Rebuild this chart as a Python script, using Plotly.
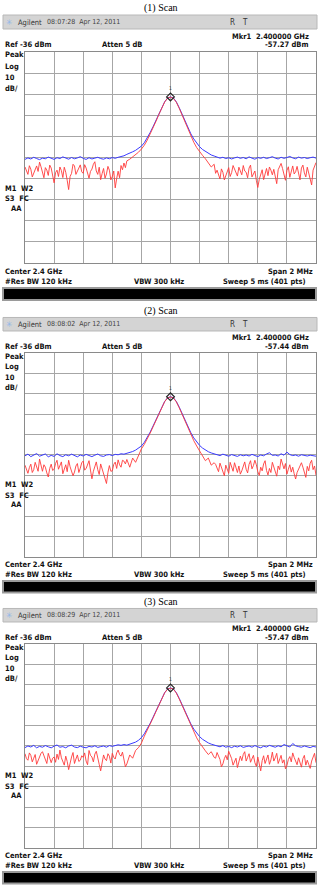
import numpy as np
import plotly.graph_objects as go

# ---------------- data ----------------
CENTER_MHZ = 2400.0
SPAN_MHZ = 2.0
REF_DBM = -36
DB_PER_DIV = 10

titles = ["(1) Scan", "(2) Scan", "(3) Scan"]
times = ["08:07:28  Apr 12, 2011", "08:08:02  Apr 12, 2011", "08:08:29  Apr 12, 2011"]
marker_dbm = [-57.27, -57.44, -57.47]
marker_text = ["-57.27 dBm", "-57.44 dBm", "-57.47 dBm"]

# ---- panel 1 ----
blue1 = ([-86.9, -86.2, -86.7, -85.9, -86.5, -87.0, -86.3, -86.6, -85.8, -86.4,
          -86.9, -86.1, -86.5, -85.7, -86.3, -86.8, -86.0, -86.6, -86.2, -85.6,
          -86.4, -86.9, -86.1, -86.7, -86.3, -85.9, -86.5, -86.8, -86.2, -86.6,
          -86.0, -86.4, -85.9, -85.6, -85.2]
         + [-84.5, -84.0, -83.3, -82.6, -81.8, -80.6, -79.0, -76.8, -74.2, -71.4,
            -68.5, -65.3, -62.2, -59.6, -57.8, -57.3, -57.8, -59.6, -62.4, -65.6,
            -68.8, -72.0, -74.8, -77.2, -79.3, -80.9, -82.2, -83.2, -84.0, -84.8, -85.3]
         + [-85.8, -86.3, -85.9, -86.5, -86.1, -86.7, -86.2, -85.8, -86.4, -86.0,
            -86.6, -85.7, -86.3, -86.8, -86.0, -86.4, -85.9, -86.5, -86.1, -85.6,
            -86.3, -86.7, -85.9, -86.4, -86.0, -85.5, -86.2, -86.6, -85.8, -86.3,
            -86.0, -86.5, -86.1, -85.8, -86.3])
red1_left = [-90.5, -92.8, -94.0, -89.9, -91.5, -95.2, -93.5, -91.2, -90.0, -92.6,
             -88.2, -90.4, -92.5, -95.6, -90.8, -92.0, -94.5, -89.6, -91.0, -93.8,
             -98.0, -93.2, -92.0, -95.0, -90.5, -92.2, -95.5, -90.6, -93.0, -96.8,
             -101.2, -95.0, -93.5, -89.2, -90.0, -94.0, -92.8, -91.0, -89.5, -92.8,
             -93.5, -89.4, -91.0, -94.2, -95.8, -92.6, -91.5, -89.2, -88.0, -92.4,
             -94.0, -90.6, -96.5, -93.6, -91.2, -95.8, -93.8, -90.2, -92.0, -96.6,
             -95.0, -92.4, -100.4, -96.0, -92.5, -95.6, -89.8, -91.8, -88.6, -90.8]
red1_peak = [-87.6, -86.8, -85.8, -84.8, -83.5, -82.0, -80.2, -77.8, -75.0, -72.0,
             -68.9, -65.6, -62.4, -59.7, -57.9, -57.4, -58.0, -59.8, -62.7, -66.0,
             -69.4, -72.7, -75.9, -78.8, -81.3, -83.4, -85.0, -86.6, -88.4, -90.5, -89.2]
red1_right = [-93.5, -92.0, -94.0, -96.2, -91.4, -93.0, -96.6, -94.5, -92.2, -90.8,
              -95.0, -93.2, -89.8, -91.5, -93.0, -94.8, -90.6, -92.6, -94.2, -89.8,
              -92.4, -93.0, -95.6, -91.0, -89.6, -95.2, -93.8, -92.4, -96.8, -100.2,
              -96.4, -94.0, -91.8, -96.5, -93.4, -91.2, -94.6, -90.5, -92.0, -94.2,
              -91.6, -96.0, -98.4, -91.8, -90.4, -88.8, -91.2, -93.6, -96.8, -92.2,
              -90.4, -95.4, -92.6, -90.0, -93.8, -92.8, -90.2, -94.0, -96.6, -91.0,
              -89.6, -93.3, -95.2, -90.6, -93.2, -96.4, -99.0, -92.0, -90.2, -88.4]

# ---- panel 2 ----
blue2 = ([-86.4, -85.6, -86.8, -86.0, -85.3, -86.6, -86.1, -85.5, -86.9, -86.2,
          -86.7, -85.4, -86.3, -86.8, -85.9, -86.4, -85.6, -86.2, -86.9, -86.0,
          -86.5, -85.7, -86.3, -86.8, -86.1, -85.5, -86.4, -86.7, -86.0, -85.8,
          -86.3, -85.7, -85.9, -85.4, -85.6]
         + [-85.2, -84.8, -84.3, -83.6, -82.8, -81.6, -79.8, -77.5, -74.8, -71.8,
            -68.6, -65.4, -62.3, -59.7, -57.9, -57.4, -57.9, -59.7, -62.5, -65.7,
            -69.0, -72.2, -75.1, -77.6, -79.7, -81.3, -82.6, -83.6, -84.4, -85.0, -85.5]
         + [-85.9, -86.3, -85.6, -86.1, -86.6, -85.8, -86.2, -86.7, -85.9, -86.4,
            -86.0, -86.5, -85.7, -86.3, -86.8, -86.0, -86.4, -85.5, -84.9, -86.2,
            -86.0, -86.5, -85.4, -86.1, -84.6, -85.8, -86.3, -86.0, -86.6, -85.9,
            -86.2, -86.5, -86.1, -86.4, -86.6])
red2_left = [-91.0, -93.4, -95.0, -92.2, -90.5, -94.6, -93.2, -89.6, -91.8, -94.0,
             -88.0, -91.6, -94.0, -90.8, -92.0, -94.8, -96.8, -92.6, -90.5, -93.6,
             -93.0, -90.2, -88.6, -93.0, -91.5, -89.4, -95.2, -92.4, -90.8, -94.2,
             -88.6, -91.8, -93.6, -96.2, -94.4, -91.4, -90.2, -94.6, -92.5, -89.8,
             -89.0, -93.4, -92.7, -90.6, -88.8, -93.4, -97.7, -94.0, -91.0, -89.4,
             -93.2, -95.6, -90.4, -92.8, -95.0, -97.4, -100.0, -94.6, -91.2, -94.0,
             -93.8, -90.6, -89.5, -92.6, -88.4, -90.8, -92.0, -88.6, -89.0, -90.4]
red2_peak = [-88.2, -92.0, -87.5, -89.6, -86.0, -83.0, -80.8, -78.2, -75.3, -72.2,
             -69.0, -65.7, -62.5, -59.8, -58.0, -57.5, -58.0, -59.9, -62.8, -66.1,
             -69.6, -72.9, -76.0, -79.0, -81.6, -83.8, -86.2, -88.8, -87.5, -91.0, -89.8]
red2_right = [-90.6, -92.4, -94.2, -90.0, -91.8, -93.8, -96.2, -91.0, -93.0, -95.0,
              -89.6, -92.2, -94.0, -89.8, -92.2, -94.6, -91.4, -95.4, -93.8, -91.2,
              -89.4, -93.0, -94.8, -90.6, -88.8, -92.8, -91.2, -88.6, -90.8, -94.2,
              -96.0, -92.0, -93.8, -90.4, -88.8, -93.6, -95.8, -92.6, -94.6, -89.6,
              -92.2, -94.0, -96.4, -91.4, -93.2, -88.0, -90.6, -92.8, -90.2, -95.4,
              -93.0, -90.8, -94.4, -92.0, -95.2, -97.8, -94.6, -93.0, -91.4, -89.8,
              -92.0, -94.4, -97.0, -91.6, -93.8, -90.0, -88.6, -93.2, -91.4, -96.0]

# ---- panel 3 ----
blue3 = ([-86.8, -86.0, -86.5, -85.7, -86.9, -86.2, -86.6, -85.8, -86.4, -86.9,
          -86.1, -85.5, -86.6, -86.3, -86.9, -86.0, -85.6, -86.5, -86.8, -86.1,
          -86.6, -86.9, -86.2, -86.5, -85.9, -86.7, -86.3, -86.0, -86.6, -85.8,
          -86.2, -85.9, -85.4, -85.7, -85.3]
         + [-85.6, -85.1, -84.7, -84.1, -83.2, -81.9, -80.0, -77.6, -74.9, -71.9,
            -68.7, -65.5, -62.4, -59.8, -58.0, -57.5, -58.0, -59.8, -62.6, -65.8,
            -69.1, -72.3, -75.2, -77.7, -79.8, -81.4, -82.7, -83.7, -84.5, -85.1, -85.6]
         + [-86.0, -86.4, -85.8, -86.6, -86.2, -86.8, -86.1, -86.5, -85.9, -86.7,
            -86.3, -86.0, -86.6, -85.8, -86.4, -86.9, -86.1, -86.5, -85.7, -86.2,
            -86.6, -85.9, -86.4, -85.3, -86.0, -86.5, -84.8, -85.9, -86.3, -86.6,
            -86.0, -86.4, -86.8, -86.2, -86.5])
red3_left = [-89.8, -92.2, -93.0, -89.4, -90.6, -93.8, -92.0, -90.2, -95.0, -93.0,
             -91.2, -89.6, -88.8, -91.0, -92.4, -94.6, -89.6, -91.6, -94.2, -92.0,
             -91.4, -94.0, -90.0, -92.6, -88.0, -91.8, -93.2, -95.4, -91.0, -93.6,
             -97.6, -94.2, -91.4, -89.2, -94.6, -92.4, -90.4, -93.6, -93.0, -90.8,
             -91.6, -89.4, -93.4, -95.2, -88.2, -90.6, -91.4, -93.8, -90.0, -88.6,
             -92.6, -95.0, -98.2, -93.6, -90.4, -92.4, -93.2, -89.8, -91.0, -94.4,
             -89.6, -91.6, -92.4, -89.4, -88.0, -90.2, -91.0, -89.0, -93.6, -96.2]
red3_peak = [-94.8, -90.4, -92.0, -88.2, -86.8, -84.6, -81.2, -78.4, -75.4, -72.3,
             -69.1, -65.8, -62.6, -59.9, -58.1, -57.6, -58.1, -60.0, -62.9, -66.2,
             -69.7, -73.0, -76.2, -79.3, -82.0, -84.4, -86.6, -88.4, -90.2, -88.8, -91.6]
red3_right = [-92.0, -89.2, -90.6, -92.6, -96.2, -94.8, -92.2, -90.6, -92.8, -88.6,
              -90.4, -92.2, -95.4, -93.6, -92.0, -96.6, -93.8, -91.0, -93.2, -90.2,
              -88.8, -93.4, -91.6, -89.8, -94.0, -92.0, -90.6, -94.2, -96.0, -91.4,
              -94.4, -98.2, -93.2, -90.8, -94.6, -92.6, -90.4, -95.0, -92.8, -89.0,
              -93.4, -91.8, -89.6, -94.6, -92.4, -90.6, -94.4, -92.8, -97.2, -95.6,
              -92.6, -91.2, -93.8, -89.4, -91.6, -93.6, -95.2, -91.8, -94.0, -96.4,
              -92.2, -90.6, -95.4, -93.0, -95.0, -97.0, -93.4, -91.8, -89.6, -94.2]

blue_traces = [blue1, blue2, blue3]
red_parts = [(red1_left, red1_peak, red1_right),
             (red2_left, red2_peak, red2_right),
             (red3_left, red3_peak, red3_right)]

# ---------------- layout geometry (pixels) ----------------
W, H = 322, 885
panel_top = [0, 303, 594]
panel_scale = [1.0, 0.965, 0.965]
PX_L, PX_R = 25, 316

INSTR_FONT = "Liberation Sans Narrow, Arial Narrow, DejaVu Sans Condensed, sans-serif"
TITLE_FONT = "Liberation Serif, Times New Roman, serif"


def fx(x):
    return x / W


def fy(y):
    return 1 - y / H


fig = go.Figure()
shapes = []
annotations = []


def text(s, x, y, anchor="left", size=8, color="#111111", family=INSTR_FONT, bold=True):
    annotations.append(dict(
        text=("<b>%s</b>" % s) if bold else s, x=fx(x), y=fy(y), xref="paper", yref="paper",
        xanchor=anchor, yanchor="middle", showarrow=False,
        font=dict(family=family, size=size, color=color)))


for k in range(3):
    t0, s = panel_top[k], panel_scale[k]

    def Y(r):
        return t0 + s * r

    ax = "" if k == 0 else str(k + 1)
    fb = CENTER_MHZ + np.linspace(-SPAN_MHZ / 2, SPAN_MHZ / 2, len(blue_traces[k]))
    rl, rp, rr = red_parts[k]
    # red sweep: fine 10 kHz points on the noise floor, 20 kHz points over the peak
    fr = CENTER_MHZ + np.concatenate([np.linspace(-1.0, -0.31, len(rl)),
                                      np.linspace(-0.30, 0.30, len(rp)),
                                      np.linspace(0.31, 1.0, len(rr))])
    red_y = list(rl) + list(rp) + list(rr)

    fig.add_trace(go.Scatter(x=fb, y=blue_traces[k], mode="lines",
                             line=dict(color="#3a3aff", width=1),
                             xaxis="x" + ax, yaxis="y" + ax, hoverinfo="skip"))
    fig.add_trace(go.Scatter(x=fr, y=red_y, mode="lines",
                             line=dict(color="#ff3a3a", width=0.9),
                             xaxis="x" + ax, yaxis="y" + ax, hoverinfo="skip"))
    fig.add_trace(go.Scatter(x=[CENTER_MHZ], y=[marker_dbm[k]], mode="markers",
                             marker=dict(symbol="diamond-open", size=6, color="#222222",
                                         line=dict(width=1.2, color="#222222")),
                             xaxis="x" + ax, yaxis="y" + ax, hoverinfo="skip"))
    annotations.append(dict(text="1", x=CENTER_MHZ, y=marker_dbm[k], xref="x" + ax, yref="y" + ax,
                            yshift=9, showarrow=False,
                            font=dict(size=5, color="#444444", family=INSTR_FONT)))

    top, bot = Y(52), Y(263)
    common = dict(showgrid=True, gridcolor="#a6a6a6", gridwidth=1, showline=True, mirror=True,
                  linecolor="#8a8a8a", linewidth=1, showticklabels=False, ticks="",
                  zeroline=False, fixedrange=True)
    fig.update_layout(**{
        "xaxis" + ax: dict(domain=[fx(PX_L), fx(PX_R)], range=[CENTER_MHZ - 1, CENTER_MHZ + 1],
                           tick0=CENTER_MHZ - 1, dtick=SPAN_MHZ / 10, anchor="y" + ax, **common),
        "yaxis" + ax: dict(domain=[fy(bot), fy(top)], range=[REF_DBM - 10 * DB_PER_DIV, REF_DBM],
                           tick0=REF_DBM, dtick=DB_PER_DIV, anchor="x" + ax, **common),
    })

    # title
    text(titles[k], 161, Y(8), anchor="center", size=10, color="#000000", family=TITLE_FONT, bold=False)
    # header bar
    shapes.append(dict(type="rect", xref="paper", yref="paper", x0=fx(3), x1=fx(317),
                       y0=fy(Y(29)), y1=fy(Y(15)), fillcolor="#d4d4d4",
                       line=dict(color="#b8b8b8", width=1), layer="below"))
    hy = Y(22)
    text("✳", 9, hy, anchor="center", size=8, color="#8fb6ea", family="DejaVu Sans", bold=False)
    text("Agilent", 16, hy, size=7.5, color="#333333", bold=False)
    text(times[k], 45, hy, size=7, color="#444444", bold=False)
    text("R", 232, hy, anchor="center", size=8, color="#333333", bold=False)
    text("T", 245, hy, anchor="center", size=8, color="#333333", bold=False)

    text("Mkr1  2.400000 GHz", 311, Y(36), anchor="right", size=7.5)
    text("Ref -36 dBm", 3, Y(45), size=7.5)
    text("Atten 5 dB", 100, Y(45), size=7.5)
    text(marker_text[k], 311, Y(45), anchor="right", size=7.5)

    for lab, r in [("Peak", 55), ("Log", 66), ("10", 77), ("dB/", 88)]:
        text(lab, 3, Y(r), size=7.5)
    text("M1  W2", 3, Y(188), size=7.5)
    text("S3  FC", 3, Y(199), size=7.5)
    text("AA", 24, Y(209), anchor="right", size=7.5)

    text("Center 2.4 GHz", 3, Y(271), size=7.5)
    text("Span 2 MHz", 315, Y(271), anchor="right", size=7.5)
    text("#Res BW 120 kHz", 3, Y(281), size=7.5)
    text("VBW 300 kHz", 159, Y(281), anchor="center", size=7.5)
    text("Sweep 5 ms (401 pts)", 308, Y(281), anchor="right", size=7.5)

    shapes.append(dict(type="rect", xref="paper", yref="paper", x0=fx(3), x1=fx(316),
                       y0=fy(Y(300)), y1=fy(Y(288)), fillcolor="#000000",
                       line=dict(color="#9a9a9a", width=2), layer="above"))

fig.update_layout(width=W, height=H, margin=dict(l=0, r=0, t=0, b=0),
                  paper_bgcolor="white", plot_bgcolor="white", showlegend=False,
                  shapes=shapes, annotations=annotations)

fig.write_html("out.html", include_plotlyjs=True, config={"displayModeBar": False},
               post_script="document.body.style.margin='0';document.body.style.padding='0';"
                           "document.body.style.overflow='hidden';")
